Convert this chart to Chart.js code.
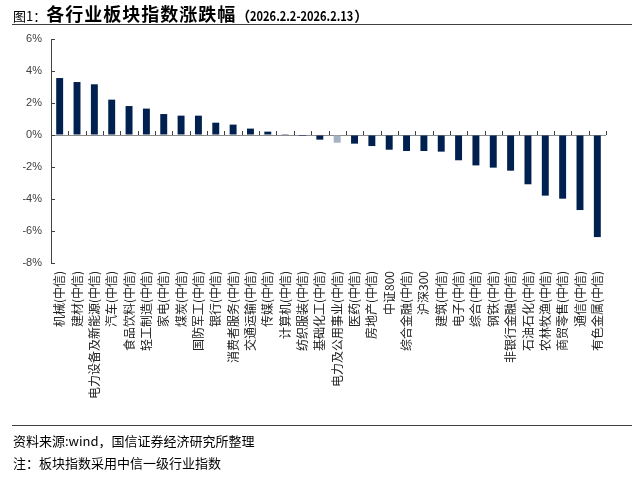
<!DOCTYPE html>
<html>
<head>
<meta charset="utf-8">
<script src="https://cdn.jsdelivr.net/npm/chart.js@4.4.1/dist/chart.umd.min.js"></script>
<style>
    body { margin: 0; background: #fff; font-family: "Noto Sans CJK SC", sans-serif; }
    #khung { position: relative; width: 644px; height: 481px; }
    #bieuDo { position: absolute; left: 0; top: 0; }
    .tieuDe { position: absolute; left: 13px; top: 1px; font-size: 18px; font-weight: bold; color: #000; white-space: nowrap; letter-spacing: 1px; line-height: 24px; }
    .tieuDe .so { font-weight: normal; font-size: 13px; letter-spacing: 0; }
    .tieuDe .ngoac { font-size: 14px; letter-spacing: 0; }
    .tieuDe .ngay { display: inline-block; font-size: 13.5px; letter-spacing: 0; transform: scaleX(0.82); transform-origin: left center; margin-right: -22px; }
    .duongKe { position: absolute; left: 12px; width: 620px; height: 0; border-top: 1.5px solid #404040; }
    .ghiChu { position: absolute; left: 13px; font-size: 13px; color: #000; white-space: nowrap; }
</style>
</head>
<body>
<div id="khung">
    <canvas id="bieuDo" width="644" height="481"></canvas>
    <div class="tieuDe"><span class="so">图1：</span>各行业板块指数涨跌幅<span class="ngoac">（</span><span class="ngay">2026.2.2-2026.2.13</span><span class="ngoac">）</span></div>
    <div class="duongKe" style="top:24px"></div>
    <div class="duongKe" style="top:425px"></div>
    <div class="ghiChu" style="top:431px">资料来源:wind，国信证券经济研究所整理</div>
    <div class="ghiChu" style="top:453px">注：板块指数采用中信一级行业指数</div>
</div>
<script>
// danh mục ngành
const nganh = [
    "机械(中信)", "建材(中信)", "电力设备及新能源(中信)", "汽车(中信)", "食品饮料(中信)",
    "轻工制造(中信)", "家电(中信)", "煤炭(中信)", "国防军工(中信)", "银行(中信)",
    "消费者服务(中信)", "交通运输(中信)", "传媒(中信)", "计算机(中信)", "纺织服装(中信)",
    "基础化工(中信)", "电力及公用事业(中信)", "医药(中信)", "房地产(中信)", "中证800",
    "综合金融(中信)", "沪深300", "建筑(中信)", "电子(中信)", "综合(中信)",
    "钢铁(中信)", "非银行金融(中信)", "石油石化(中信)", "农林牧渔(中信)", "商贸零售(中信)",
    "通信(中信)", "有色金属(中信)"
];

// mức tăng giảm (%)
const tangGiam = [
    3.56, 3.31, 3.17, 2.21, 1.81,
    1.65, 1.31, 1.21, 1.21, 0.77,
    0.65, 0.40, 0.21, 0.01, -0.06,
    -0.29, -0.48, -0.54, -0.69, -0.92,
    -1.00, -1.00, -1.04, -1.58, -1.90,
    -2.04, -2.23, -3.08, -3.79, -3.98,
    -4.69, -6.38
];

// vạch trục tung
const vachTruc = [-8, -6, -4, -2, 0, 2, 4, 6];

const nganhNhat = "电力及公用事业(中信)";
const mauDam = "#00214f";
const mauNhat = "#a3b2c5";

// vẽ vạch nhỏ trên đường 0 và bên trong trục tung
const vachNho = {
    id: "vachNho",
    afterDatasetsDraw(chart) {
        const ctx = chart.ctx;
        const x = chart.scales.x;
        const y = chart.scales.y;
        const y0 = y.getPixelForValue(0);
        const buoc = x.getPixelForValue(1) - x.getPixelForValue(0);
        ctx.save();
        ctx.strokeStyle = "#404040";
        ctx.lineWidth = 1;
        ctx.beginPath();
        for (let i = 0; i < nganh.length; i++) {
            const px = Math.round(x.getPixelForValue(i) + buoc / 2) + 0.5;
            ctx.moveTo(px, y0);
            ctx.lineTo(px, y0 - 4);
        }
        vachTruc.forEach((v) => {
            const py = Math.round(y.getPixelForValue(v)) + 0.5;
            ctx.moveTo(chart.chartArea.left, py);
            ctx.lineTo(chart.chartArea.left + 4, py);
        });
        ctx.stroke();
        ctx.restore();
    },
};

new Chart(document.getElementById("bieuDo"), {
    type: "bar",
    data: {
        labels: nganh,
        datasets: [{
            data: tangGiam,
            backgroundColor: nganh.map((n) => (n === nganhNhat ? mauNhat : mauDam)),
            categoryPercentage: 1,
            barPercentage: 0.4,
        }],
    },
    options: {
        responsive: false,
        animation: false,
        layout: { padding: { top: 39, right: 38, bottom: 68, left: 0 } },
        plugins: {
            legend: { display: false },
            tooltip: { enabled: false },
        },
        scales: {
            x: {
                afterFit: (s) => { s.height = 150; },
                grid: { display: false, drawTicks: false },
                border: { display: false },
                ticks: {
                    autoSkip: false,
                    maxRotation: 90,
                    minRotation: 90,
                    padding: 8,
                    color: "#222",
                    font: { family: "Noto Sans CJK SC", size: 12 },
                },
            },
            y: {
                min: -8,
                max: 6,
                afterFit: (s) => { s.width = 51; },
                afterBuildTicks: (s) => { s.ticks = vachTruc.map((v) => ({ value: v })); },
                grid: {
                    drawTicks: false,
                    color: (c) => (c.tick && c.tick.value === 0 ? "#8c8c8c" : "rgba(0,0,0,0)"),
                },
                border: { display: true, color: "#404040" },
                ticks: {
                    padding: 9,
                    color: "#404040",
                    font: { family: "Liberation Sans", size: 11 },
                    callback: (v) => v + "%",
                },
            },
        },
    },
    plugins: [vachNho],
});
</script>
</body>
</html>
